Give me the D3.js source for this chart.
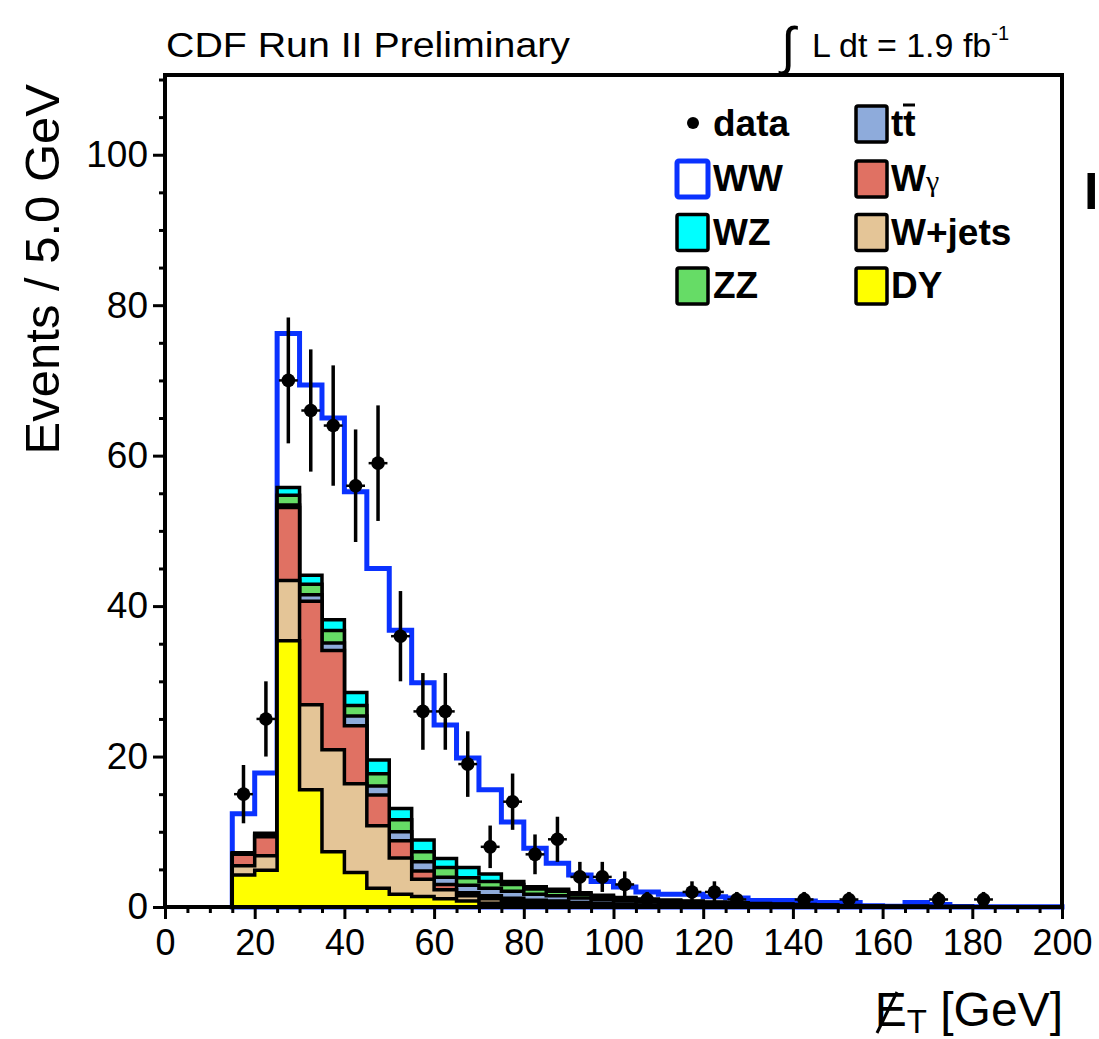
<!DOCTYPE html>
<html>
<head>
<meta charset="utf-8">
<script src="https://cdn.jsdelivr.net/npm/d3@7"></script>
<style>
  html, body { margin: 0; padding: 0; background: #fff; }
  svg { display: block; }
  text { font-family: "Liberation Sans", Arial, Helvetica, sans-serif; fill: #000; }
</style>
</head>
<body>
<div id="chart"></div>
<script>
// Missing E_T distribution, CDF WW selection (1.9 fb^-1)

// low edge of each 5 GeV bin
const binLow = [15, 20, 25, 30, 35, 40, 45, 50, 55, 60, 65, 70, 75, 80, 85, 90, 95, 100, 105, 110,
    115, 120, 125, 130, 135, 140, 145, 150, 155, 160, 165, 170, 175, 180, 185, 190, 195];
const binWidth = 5;

// background predictions per bin (events / 5 GeV)
const dyVals     = [4.25, 4.9, 35.4, 15.6, 7.35, 4.6, 2.5, 1.7, 1.4, 1.1, 0.8, 0.5, 0.3, 0.25, 0.2, 0.15, 0.1, 0.1, 0.05, 0.05,
    0.05, 0, 0, 0, 0, 0, 0, 0, 0, 0, 0, 0, 0, 0, 0, 0, 0];
const wjetsVals  = [1.25, 1.9, 8.0, 11.3, 13.55, 11.8, 8.3, 4.8, 2.3, 1.2, 0.7, 0.6, 0.45, 0.35, 0.3, 0.25, 0.2, 0.15, 0.1, 0.1,
    0.1, 0.05, 0.05, 0.05, 0.03, 0.02, 0.02, 0, 0, 0, 0, 0, 0, 0, 0, 0, 0];
const wgammaVals = [1.5, 2.55, 9.7, 13.75, 13.2, 7.7, 4.1, 2.3, 1.1, 0.7, 0.4, 0.4, 0.4, 0.3, 0.3, 0.2, 0.15, 0.1, 0.1, 0.08,
    0.06, 0.05, 0.04, 0.03, 0.02, 0.02, 0.01, 0, 0, 0, 0, 0, 0, 0, 0, 0, 0];
const ttVals     = [0.1, 0.2, 0.35, 0.85, 1.0, 1.3, 1.2, 1.2, 1.2, 0.95, 1.0, 1.0, 0.95, 0.8, 0.7, 0.6, 0.5, 0.45, 0.4, 0.35,
    0.3, 0.3, 0.25, 0.2, 0.2, 0.15, 0.12, 0.1, 0.08, 0.05, 0.05, 0.03, 0.03, 0.02, 0.02, 0.01, 0.01];
const zzVals     = [0.05, 0.15, 1.3, 1.4, 1.65, 1.4, 1.6, 1.6, 1.35, 1.3, 1.0, 0.9, 0.9, 0.7, 0.6, 0.5, 0.45, 0.35, 0.3, 0.25,
    0.22, 0.2, 0.18, 0.15, 0.12, 0.1, 0.1, 0.08, 0.06, 0.05, 0.05, 0.04, 0.03, 0.02, 0.02, 0.01, 0.01];
const wzVals     = [0.05, 0.1, 1.0, 1.2, 1.45, 1.7, 1.85, 1.5, 1.55, 1.2, 1.35, 1.0, 0.4, 0.3, 0.25, 0.2, 0.15, 0.12, 0.1, 0.1,
    0.08, 0.07, 0.06, 0.05, 0.04, 0.03, 0.03, 0.02, 0.02, 0.01, 0.01, 0, 0, 0, 0, 0, 0];
const wwVals     = [5.2, 8.0, 20.5, 25.3, 26.8, 26.7, 25.45, 23.7, 20.9, 17.75, 14.55, 11.2, 7.9, 5.1, 3.45, 2.35, 1.85, 1.4, 0.95, 0.77,
    0.9, 0.68, 0.62, 0.37, 0.44, 0.48, 0.32, 0.4, 0, 0, 0.5, 0.25, 0, 0, 0, 0, 0];

// observed data (bin centre, events)
const dataX = [17.5, 22.5, 27.5, 32.5, 37.5, 42.5, 47.5, 52.5, 57.5, 62.5, 67.5, 72.5, 77.5, 82.5, 87.5,
    92.5, 97.5, 102.5, 107.5, 117.5, 122.5, 127.5, 142.5, 152.5, 172.5, 182.5];
const dataY = [15, 25, 70, 66, 64, 56, 59, 36, 26, 26, 19, 8, 14, 7, 9,
    4, 4, 3, 1, 2, 2, 1, 1, 1, 1, 1];

// axis ticks
const xMajor = [0, 20, 40, 60, 80, 100, 120, 140, 160, 180, 200];
const xMinor = [5, 10, 15, 25, 30, 35, 45, 50, 55, 65, 70, 75, 85, 90, 95, 105, 110, 115, 125, 130, 135,
    145, 150, 155, 165, 170, 175, 185, 190, 195];
const yMajor = [0, 20, 40, 60, 80, 100];
const yMinor = [5, 10, 15, 25, 30, 35, 45, 50, 55, 65, 70, 75, 85, 90, 95, 105, 110];

const keys = ['DY', 'Wjets', 'Wgamma', 'tt', 'ZZ', 'WZ', 'WW'];
const fills = {DY: '#ffff00', Wjets: '#e4c597', Wgamma: '#e07163', tt: '#8eabdb', ZZ: '#66dc66', WZ: '#00ffff', WW: '#ffffff'};
const wwBlue = '#0a32ff';

const W = 1099, H = 1039;
const frame = {left: 165, right: 1062, top: 75, bottom: 907};

const svg = d3.select('#chart').append('svg')
    .attr('width', W)
    .attr('height', H)
    .attr('viewBox', [0, 0, W, H]);

const x = d3.scaleLinear().domain([0, 200]).range([frame.left, frame.right]);
const y = d3.scaleLinear().domain([0, 110.6]).range([frame.bottom, frame.top]);

// stack the backgrounds
const rows = binLow.map((lo, i) => ({
    lo: lo,
    DY: dyVals[i], Wjets: wjetsVals[i], Wgamma: wgammaVals[i],
    tt: ttVals[i], ZZ: zzVals[i], WZ: wzVals[i], WW: wwVals[i]
}));
const series = d3.stack().keys(keys)(rows);

// step outline of a cumulative layer, closed down to zero
const area = d3.area()
    .x(d => x(d[0]))
    .y0(y(0))
    .y1(d => y(d[1]));

function stepPoints(layer) {
    const pts = [];
    layer.forEach(d => {
        pts.push([d.data.lo, d[1]]);
        pts.push([d.data.lo + binWidth, d[1]]);
    });
    return pts;
}

// draw from top layer down, like ROOT's THStack
series.slice().reverse().forEach(layer => {
    const isWW = layer.key === 'WW';
    svg.append('path')
        .attr('d', area(stepPoints(layer)))
        .attr('fill', fills[layer.key])
        .attr('stroke', isWW ? wwBlue : '#000')
        .attr('stroke-width', isWW ? 5 : 3.5)
        .attr('stroke-linejoin', 'miter');
});

// data points with errors
const pts = dataX.map((v, i) => ({x: v, n: dataY[i]}));
const dataG = svg.append('g');
dataG.selectAll('.ey')
    .data(pts)
    .join('line')
    .attr('x1', d => x(d.x)).attr('x2', d => x(d.x))
    .attr('y1', d => y(d.n - Math.sqrt(d.n)))
    .attr('y2', d => y(d.n + Math.sqrt(d.n)))
    .attr('stroke', '#000')
    .attr('stroke-width', 3.5);
dataG.selectAll('.ex')
    .data(pts)
    .join('line')
    .attr('x1', d => x(d.x - 2.1)).attr('x2', d => x(d.x + 2.1))
    .attr('y1', d => y(d.n)).attr('y2', d => y(d.n))
    .attr('stroke', '#000')
    .attr('stroke-width', 2.5);
dataG.selectAll('circle')
    .data(pts)
    .join('circle')
    .attr('cx', d => x(d.x))
    .attr('cy', d => y(d.n))
    .attr('r', 6.8)
    .attr('fill', '#000');

// axes
const fontSize = 36;
svg.append('g')
    .attr('transform', `translate(0,${frame.bottom})`)
    .call(d3.axisBottom(x).tickValues(xMajor).tickSize(12).tickPadding(10).tickSizeOuter(0))
    .call(g => g.select('.domain').remove())
    .call(g => g.selectAll('line').attr('stroke-width', 3))
    .call(g => g.selectAll('text').attr('font-size', fontSize).attr('font-family', null));
svg.append('g')
    .attr('transform', `translate(0,${frame.bottom})`)
    .call(d3.axisBottom(x).tickValues(xMinor).tickSize(6).tickFormat('').tickSizeOuter(0))
    .call(g => g.select('.domain').remove())
    .call(g => g.selectAll('line').attr('stroke-width', 3));

svg.append('g')
    .attr('transform', `translate(${frame.left},0)`)
    .call(d3.axisLeft(y).tickValues(yMajor).tickSize(12).tickPadding(5).tickSizeOuter(0))
    .call(g => g.select('.domain').remove())
    .call(g => g.selectAll('line').attr('stroke-width', 3))
    .call(g => g.selectAll('text').attr('font-size', fontSize + 1).attr('font-family', null));
svg.append('g')
    .attr('transform', `translate(${frame.left},0)`)
    .call(d3.axisLeft(y).tickValues(yMinor).tickSize(6).tickFormat('').tickSizeOuter(0))
    .call(g => g.select('.domain').remove())
    .call(g => g.selectAll('line').attr('stroke-width', 3));

// frame
svg.append('rect')
    .attr('x', frame.left)
    .attr('y', frame.top)
    .attr('width', frame.right - frame.left)
    .attr('height', frame.bottom - frame.top)
    .attr('fill', 'none')
    .attr('stroke', '#000')
    .attr('stroke-width', 4);

// axis titles
svg.append('text')
    .attr('transform', 'translate(59,84) rotate(-90)')
    .attr('text-anchor', 'end')
    .attr('font-size', 49)
    .text('Events / 5.0 GeV');

const xt = svg.append('text')
    .attr('x', 1063)
    .attr('y', 1026)
    .attr('text-anchor', 'end')
    .attr('font-size', 48);
xt.append('tspan').text('E');
xt.append('tspan').attr('font-size', 33).attr('dy', 7).text('T');
xt.append('tspan').attr('dy', -7).text(' [GeV]');
svg.append('line')
    .attr('x1', 877).attr('y1', 1033)
    .attr('x2', 897).attr('y2', 992)
    .attr('stroke', '#000')
    .attr('stroke-width', 3);

// header
svg.append('text')
    .attr('x', 166)
    .attr('y', 57)
    .attr('font-size', 35)
    .attr('textLength', 404)
    .attr('lengthAdjust', 'spacingAndGlyphs')
    .text('CDF Run II Preliminary');
svg.append('text')
    .attr('x', 781)
    .attr('y', 64)
    .attr('font-family', '"DejaVu Serif", serif')
    .attr('font-size', 52)
    .text('∫');
const lumi = svg.append('text')
    .attr('x', 812)
    .attr('y', 57)
    .attr('font-size', 34);
lumi.append('tspan').text('L dt = 1.9 fb');
lumi.append('tspan').attr('font-size', 20).attr('dy', -17).text('-1');

// legend
const legLeft = [
    {label: 'data', type: 'marker'},
    {label: 'WW', key: 'WW'},
    {label: 'WZ', key: 'WZ'},
    {label: 'ZZ', key: 'ZZ'}
];
const legRight = [
    {label: 'tt', key: 'tt'},
    {label: 'Wγ', key: 'Wgamma'},
    {label: 'W+jets', key: 'Wjets'},
    {label: 'DY', key: 'DY'}
];
const rowY = [124, 179, 232.5, 286];

function drawLegendColumn(items, boxX, textX) {
    items.forEach((it, i) => {
        const cy = rowY[i];
        if (it.type === 'marker') {
            svg.append('circle')
                .attr('cx', boxX + 16).attr('cy', cy - 1).attr('r', 6).attr('fill', '#000');
        } else {
            svg.append('rect')
                .attr('x', boxX).attr('y', cy - 18)
                .attr('width', 31).attr('height', 36)
                .attr('rx', 2)
                .attr('fill', fills[it.key])
                .attr('stroke', it.key === 'WW' ? wwBlue : '#000')
                .attr('stroke-width', it.key === 'WW' ? 5 : 3.5);
        }
        const t = svg.append('text')
            .attr('x', textX)
            .attr('y', cy + 12)
            .attr('font-size', 37)
            .attr('font-weight', 'bold');
        if (it.key === 'Wgamma') {
            t.append('tspan').text('W');
            t.append('tspan')
                .attr('font-family', '"Liberation Serif", "Times New Roman", serif')
                .attr('font-weight', 'normal')
                .attr('font-size', 30)
                .text('γ');
        } else if (it.key === 'tt') {
            t.append('tspan').text('tt');
        } else {
            t.text(it.label);
        }
    });
}
drawLegendColumn(legLeft, 677, 713);
drawLegendColumn(legRight, 856, 891);
// bar over the second t of t-tbar
svg.append('line')
    .attr('x1', 903).attr('x2', 915)
    .attr('y1', 105).attr('y2', 105)
    .attr('stroke', '#000')
    .attr('stroke-width', 3);

// clipped letter from neighbouring panel at the right edge
svg.append('text')
    .attr('x', 1084)
    .attr('y', 209)
    .attr('font-size', 52)
    .attr('font-weight', 'bold')
    .text('I');
</script>
</body>
</html>
